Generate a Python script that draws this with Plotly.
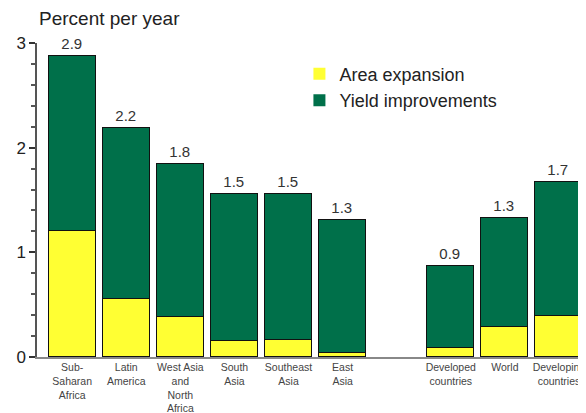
import plotly.graph_objects as go

categories = ["Sub-<br>Saharan<br>Africa", "Latin<br>America", "West Asia<br>and<br>North<br>Africa",
              "South<br>Asia", "Southeast<br>Asia", "East<br>Asia",
              "Developed<br>countries", "World", "Developing<br>countries"]
positions = [0, 1, 2, 3, 4, 5, 7, 8, 9]
area_expansion = [1.20, 0.55, 0.38, 0.15, 0.16, 0.04, 0.09, 0.29, 0.39]
yield_improvements = [1.68, 1.64, 1.46, 1.41, 1.40, 1.27, 0.78, 1.04, 1.28]
total_labels = ["2.9", "2.2", "1.8", "1.5", "1.5", "1.3", "0.9", "1.3", "1.7"]

YELLOW = "#FFFF33"
GREEN = "#00704A"
FONT = "Liberation Sans, Arial, sans-serif"

fig = go.Figure()
fig.add_trace(go.Bar(x=positions, y=area_expansion, marker=dict(color=YELLOW, line=dict(color="#111", width=1.5)),
                     width=0.87, showlegend=False, hoverinfo="y"))
fig.add_trace(go.Bar(x=positions, y=yield_improvements, marker=dict(color=GREEN, line=dict(color="#111", width=1.5)),
                     width=0.87, showlegend=False, text=total_labels, textposition="outside",
                     textfont=dict(size=15, color="#333", family=FONT), cliponaxis=False, hoverinfo="y"))
# legend-only entries
fig.add_trace(go.Bar(x=[None], y=[None], name="Area expansion", marker=dict(color=YELLOW, line=dict(width=0))))
fig.add_trace(go.Bar(x=[None], y=[None], name="Yield improvements", marker=dict(color=GREEN, line=dict(width=0))))

fig.update_layout(
    width=586, height=413,
    barmode="stack",
    plot_bgcolor="white", paper_bgcolor="white",
    margin=dict(l=29, r=8, t=35, b=64, autoexpand=False),
    font=dict(family=FONT, color="#222"),
    legend=dict(x=0.478, y=0.96, xanchor="left", yanchor="top", font=dict(size=18, color="#222"),
                bgcolor="rgba(0,0,0,0)", tracegroupgap=0, itemwidth=30, traceorder="normal"),
    xaxis=dict(range=[-0.65, 9.5], tickmode="array", tickvals=positions, ticktext=categories,
               tickfont=dict(size=10.5, color="#444"), showline=True, linecolor="#888", linewidth=1.5,
               ticks="", showgrid=False, zeroline=False, fixedrange=True, automargin=False),
    yaxis=dict(range=[0, 3], tickvals=[0, 1, 2, 3], tickfont=dict(size=17, color="#222"),
               showline=True, linecolor="#555", linewidth=1.5, ticks="outside", ticklen=6, tickcolor="#333",
               tickwidth=1.5, minor=dict(dtick=0.2, ticks="outside", ticklen=4, tickcolor="#555"),
               showgrid=False, zeroline=False, fixedrange=True, automargin=False),
    bargap=0,
    annotations=[dict(text="Percent per year", xref="paper", yref="paper", x=0.0, y=1.0, yshift=12,
                      xanchor="left", yanchor="bottom", showarrow=False, font=dict(size=19, color="#222"))],
)

fig.write_html("out.html")
